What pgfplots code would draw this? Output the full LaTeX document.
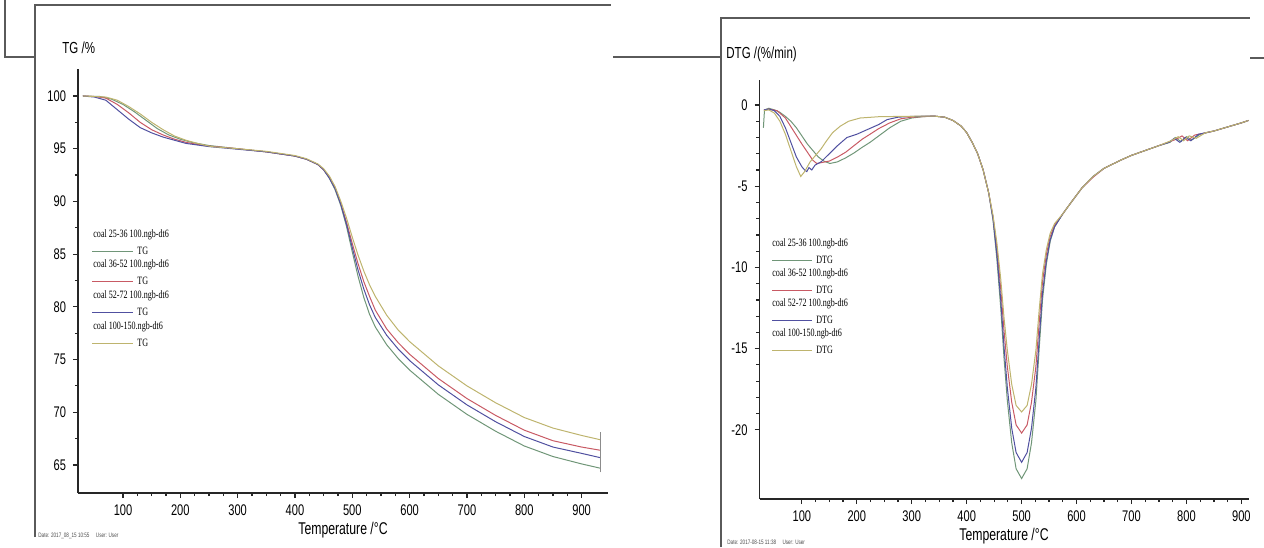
\documentclass[border=0pt]{standalone}
\usepackage{fontspec}
\setmainfont{Liberation Sans}[FakeStretch=0.72]
\newfontfamily\serifc{Liberation Serif}[FakeStretch=0.72]
\usepackage{pgfplots}
\pgfplotsset{compat=1.18}

\definecolor{cgreen}{RGB}{112,150,120}
\definecolor{cred}{RGB}{200,90,100}
\definecolor{cblue}{RGB}{80,80,160}
\definecolor{ckhaki}{RGB}{190,180,110}
\definecolor{frame}{RGB}{90,90,90}

\pgfplotsset{
  tga/.style={
    scale only axis,
    anchor=south west,
    axis x line*=bottom,
    axis y line*=left,
    axis line style={line width=0.8pt,black!85},
    tick style={black!85,line width=0.6pt},
    tick align=outside,
    major tick length=2.5pt,
    minor tick length=1.6pt,
    xtick={100,200,...,900},
    minor x tick num=3,
    /pgf/number format/assume math mode=true,
    tick label style={font=\fontsize{7.7}{8}\selectfont},
    xlabel={Temperature /°C},
    xlabel style={font=\fontsize{8.5}{9}\selectfont, yshift=4pt},
    every axis plot/.append style={line width=0.5pt, no marks},
  },
}

\begin{document}
\begin{tikzpicture}
% page size 1264 x 547 px, 1 px = 0.5pt
\path[use as bounding box] (0,0) rectangle (632pt,-273.5pt);

% ---------------- TG ----------------
\begin{axis}[tga,
  at={(39pt,-246.5pt)}, width=265pt, height=212pt,
  xmin=21.5, xmax=946, ymin=62.34, ymax=102.56,
  ytick={65,70,...,100}, minor y tick num=1,
]
\addplot[cgreen] coordinates {(30,100)(60,99.95)(80,99.7)(100,99.2)(120,98.5)(140,97.7)(160,96.9)(180,96.3)(200,95.9)(220,95.6)(250,95.3)(300,95.0)(350,94.7)(400,94.3)(420,94.0)(440,93.5)(450,93.0)(460,92.2)(470,91.1)(480,89.6)(490,87.6)(500,85.2)(510,82.9)(520,80.9)(530,79.3)(540,78.1)(560,76.4)(580,75.1)(600,74.0)(650,71.7)(700,69.8)(750,68.2)(800,66.8)(850,65.8)(900,65.1)(932,64.7)};
\addplot[cred] coordinates {(30,100)(50,99.95)(70,99.8)(90,99.2)(110,98.4)(130,97.5)(150,96.8)(170,96.3)(190,95.9)(210,95.6)(230,95.4)(250,95.25)(300,95.0)(350,94.7)(400,94.3)(420,94.0)(440,93.5)(450,93.0)(460,92.3)(470,91.3)(480,89.8)(490,88.0)(500,86.0)(510,84.1)(520,82.4)(530,81.0)(540,79.7)(560,77.9)(580,76.6)(600,75.5)(650,73.2)(700,71.3)(750,69.7)(800,68.3)(850,67.3)(900,66.7)(932,66.4)};
\addplot[cblue] coordinates {(30,100)(50,99.9)(70,99.6)(90,98.7)(110,97.8)(130,97.0)(150,96.5)(170,96.1)(190,95.8)(210,95.5)(230,95.35)(250,95.2)(300,94.95)(350,94.7)(400,94.3)(420,94.0)(440,93.5)(450,93.0)(460,92.2)(470,91.2)(480,89.7)(490,87.8)(500,85.6)(510,83.5)(520,81.7)(530,80.2)(540,79.0)(560,77.3)(580,76.0)(600,74.9)(650,72.6)(700,70.7)(750,69.1)(800,67.7)(850,66.7)(900,66.1)(932,65.7)};
\addplot[ckhaki] coordinates {(30,100)(70,99.9)(90,99.6)(110,99.0)(130,98.3)(150,97.5)(170,96.8)(190,96.2)(210,95.8)(230,95.5)(254,95.2)(300,95.0)(350,94.75)(400,94.35)(420,94.05)(440,93.55)(450,93.1)(460,92.4)(470,91.4)(480,90.0)(490,88.4)(500,86.6)(510,84.9)(520,83.4)(530,82.1)(540,81.0)(560,79.2)(580,77.8)(600,76.7)(650,74.4)(700,72.5)(750,70.9)(800,69.5)(850,68.5)(900,67.8)(932,67.4)};
\addplot[black!45,line width=0.4pt] coordinates {(933,64.3)(933,68.1)};
\end{axis}

% ---------------- DTG ----------------
\begin{axis}[tga,
  at={(379.75pt,-249.5pt)}, width=244.5pt, height=209.5pt,
  xmin=22.9, xmax=913, ymin=-24.26, ymax=1.54,
  ytick={-20,-15,...,0}, minor y tick num=4,
]
\addplot[cgreen] coordinates {(30,-1.4)(32,-0.3)(40,-0.2)(50,-0.3)(60,-0.45)(70,-0.7)(80,-1.0)(90,-1.4)(100,-1.9)(110,-2.4)(120,-2.8)(130,-3.2)(140,-3.45)(151,-3.6)(165,-3.5)(180,-3.25)(195,-2.95)(210,-2.6)(224,-2.3)(240,-1.9)(260,-1.4)(280,-1.0)(300,-0.8)(320,-0.72)(340,-0.68)(360,-0.75)(375,-0.95)(390,-1.3)(400,-1.7)(410,-2.3)(420,-3.0)(430,-4.0)(440,-5.4)(448,-7.1)(455,-9.5)(462,-12.5)(468,-15.6)(474,-18.2)(482,-20.8)(490,-22.4)(500,-23.0)(510,-22.4)(518,-20.8)(526,-18.2)(532,-15.0)(538,-12.0)(545,-9.8)(552,-8.4)(560,-7.5)(575,-6.7)(590,-6.0)(610,-5.1)(630,-4.4)(650,-3.9)(680,-3.4)(700,-3.1)(725,-2.8)(750,-2.5)(770,-2.3)(780,-2.0)(790,-2.25)(800,-1.95)(810,-2.15)(825,-1.8)(850,-1.6)(875,-1.35)(900,-1.1)(913,-0.95)};
\addplot[cred] coordinates {(31,-0.3)(40,-0.25)(55,-0.35)(70,-0.8)(85,-1.6)(100,-2.4)(112,-3.0)(120,-3.4)(127,-3.6)(135,-3.55)(150,-3.45)(165,-3.2)(180,-2.9)(195,-2.5)(210,-2.1)(224,-1.8)(240,-1.45)(260,-1.1)(280,-0.85)(300,-0.75)(340,-0.68)(360,-0.75)(375,-0.95)(390,-1.3)(400,-1.7)(410,-2.3)(420,-3.0)(430,-4.0)(440,-5.4)(448,-6.9)(455,-8.8)(462,-11.3)(468,-13.9)(474,-16.1)(482,-18.3)(490,-19.7)(500,-20.2)(510,-19.7)(518,-18.3)(526,-16.1)(532,-13.4)(538,-10.9)(545,-9.2)(552,-8.1)(560,-7.4)(575,-6.7)(590,-6.0)(610,-5.1)(630,-4.45)(650,-3.9)(680,-3.4)(700,-3.1)(725,-2.8)(750,-2.5)(770,-2.25)(782,-2.1)(792,-1.9)(802,-2.2)(815,-1.85)(830,-1.75)(850,-1.6)(875,-1.35)(900,-1.1)(913,-0.95)};
\addplot[cblue] coordinates {(31,-0.3)(40,-0.25)(50,-0.35)(60,-0.7)(70,-1.4)(80,-2.3)(90,-3.2)(100,-3.8)(105,-4.0)(109,-4.1)(113,-3.85)(118,-4.0)(124,-3.7)(135,-3.5)(150,-3.0)(165,-2.5)(182,-2.0)(200,-1.8)(220,-1.5)(240,-1.2)(255,-0.9)(275,-0.75)(300,-0.7)(340,-0.68)(360,-0.75)(375,-0.95)(390,-1.3)(400,-1.7)(410,-2.3)(420,-3.0)(430,-4.0)(440,-5.4)(448,-7.0)(455,-9.2)(462,-12.0)(468,-14.9)(474,-17.4)(482,-19.9)(490,-21.4)(500,-22.0)(510,-21.4)(518,-19.9)(526,-17.4)(532,-14.4)(538,-11.6)(545,-9.6)(552,-8.3)(560,-7.5)(575,-6.7)(590,-6.0)(610,-5.1)(630,-4.4)(650,-3.9)(680,-3.4)(700,-3.1)(725,-2.8)(750,-2.5)(768,-2.3)(778,-2.05)(788,-2.3)(798,-2.0)(808,-2.2)(822,-1.8)(850,-1.6)(875,-1.35)(900,-1.1)(913,-0.95)};
\addplot[ckhaki] coordinates {(31,-0.35)(40,-0.3)(50,-0.5)(60,-1.0)(70,-1.8)(80,-2.8)(90,-3.8)(98,-4.4)(105,-4.1)(115,-3.5)(125,-3.1)(135,-2.7)(145,-2.2)(156,-1.7)(170,-1.3)(185,-1.0)(206,-0.8)(240,-0.72)(280,-0.7)(340,-0.68)(360,-0.75)(375,-0.95)(390,-1.3)(400,-1.7)(410,-2.3)(420,-3.0)(430,-4.0)(440,-5.4)(448,-6.8)(455,-8.5)(462,-10.7)(468,-13.1)(474,-15.1)(482,-17.2)(490,-18.5)(500,-18.9)(510,-18.5)(518,-17.2)(526,-15.1)(532,-12.6)(538,-10.4)(545,-8.9)(552,-7.9)(560,-7.3)(575,-6.7)(590,-6.0)(610,-5.1)(630,-4.4)(650,-3.9)(680,-3.4)(700,-3.1)(725,-2.8)(750,-2.5)(772,-2.2)(785,-1.95)(795,-2.2)(805,-1.9)(818,-2.05)(835,-1.7)(850,-1.6)(875,-1.35)(900,-1.1)(913,-0.95)};
\end{axis}

\begin{scope}[x=0.5pt,y=-0.5pt]
  % clipped screenshot edge on the right
  \fill[white] (1250,0) rectangle (1264,547);
  % slide frame lines
  \draw[frame,line width=0.8pt] (5,0) -- (5,57) -- (35,57);
  \draw[frame,line width=0.8pt] (35,537) -- (35,5) -- (611,5);
  \draw[frame,line width=0.8pt] (613,57) -- (721,57);
  \draw[frame,line width=0.8pt] (721,547) -- (721,18) -- (1250,18);
  \draw[frame,line width=0.8pt] (1250,58) -- (1264,58);
  % axis titles
  \node[anchor=west,inner sep=0pt,font=\fontsize{8}{9}\selectfont] at (62,48) {TG /\%};
  \node[anchor=west,inner sep=0pt,font=\fontsize{8}{9}\selectfont] at (726,54) {DTG /(\%/min)};
  % footers
  \node[anchor=west,inner sep=0pt,font=\fontsize{3.2}{4}\selectfont,black!70] at (38,536) {Date: 2017\_08\_15 10:55\quad User: User};
  \node[anchor=west,inner sep=0pt,font=\fontsize{3.2}{4}\selectfont,black!70] at (727,542) {Date: 2017-08-15 11:38\quad User: User};
  % TG legend
  \foreach \yy/\cc/\tt in {235/cgreen/{coal 25-36 100.ngb-dt6},265/cred/{coal 36-52 100.ngb-dt6},296/cblue/{coal 52-72 100.ngb-dt6},327/ckhaki/{coal 100-150.ngb-dt6}}{
    \node[anchor=west,inner sep=0pt,font=\serifc\fontsize{5.6}{6}\selectfont] at (93,\yy) {\tt};
    \draw[\cc,line width=0.5pt] (92,\yy+16) -- (133,\yy+16);
    \node[anchor=west,inner sep=0pt,font=\serifc\fontsize{5.6}{6}\selectfont] at (137,\yy+16) {TG};
  }
  % DTG legend
  \foreach \yy/\cc/\tt in {244/cgreen/{coal 25-36 100.ngb-dt6},274/cred/{coal 36-52 100.ngb-dt6},304/cblue/{coal 52-72 100.ngb-dt6},334/ckhaki/{coal 100-150.ngb-dt6}}{
    \node[anchor=west,inner sep=0pt,font=\serifc\fontsize{5.6}{6}\selectfont] at (772,\yy) {\tt};
    \draw[\cc,line width=0.5pt] (772,\yy+16) -- (812,\yy+16);
    \node[anchor=west,inner sep=0pt,font=\serifc\fontsize{5.6}{6}\selectfont] at (816,\yy+16) {DTG};
  }
\end{scope}
\end{tikzpicture}
\end{document}
